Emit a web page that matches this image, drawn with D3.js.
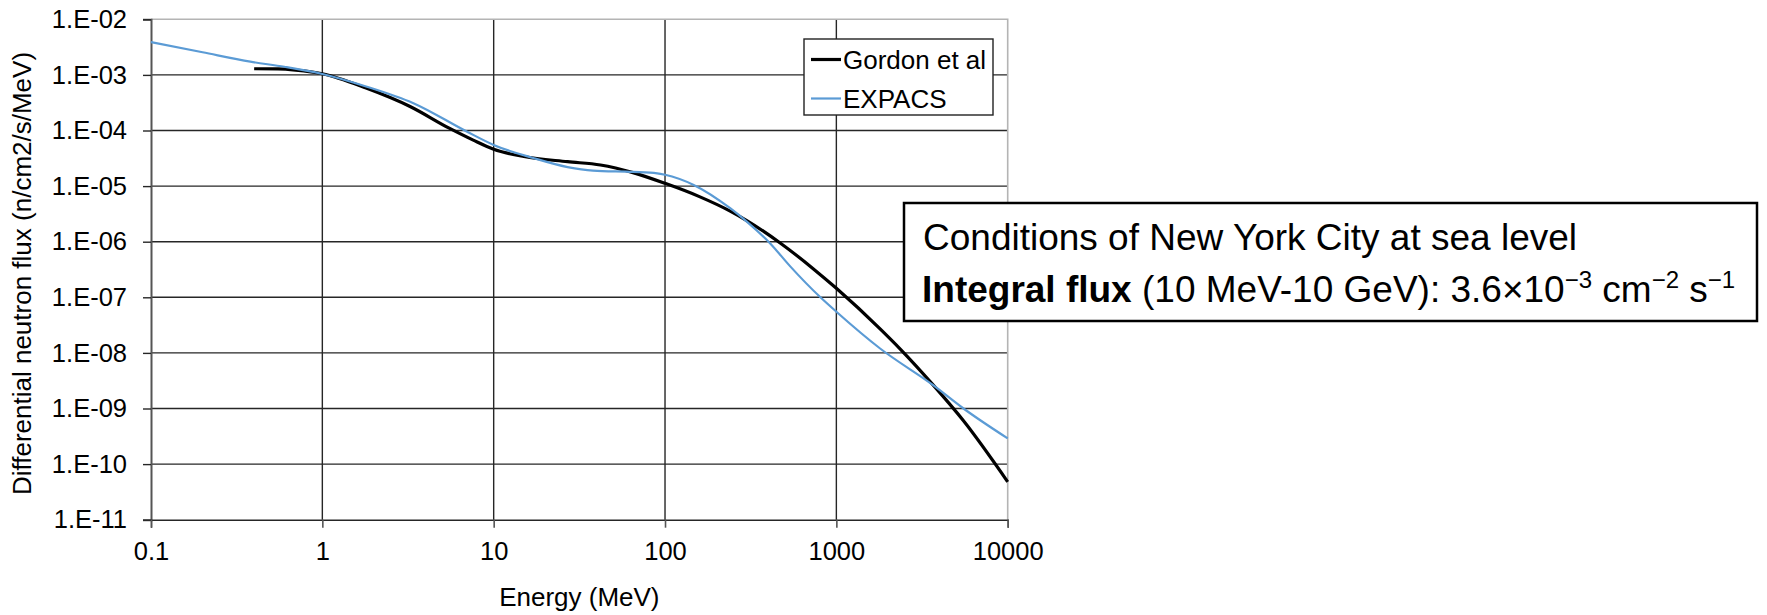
<!DOCTYPE html>
<html>
<head>
<meta charset="utf-8">
<script src="https://cdn.jsdelivr.net/npm/d3@7"></script>
<style>
  html, body { margin: 0; padding: 0; background: #fff; }
  svg { display: block; font-family: "Liberation Sans", Arial, sans-serif; }
</style>
</head>
<body>
<svg id="chart" width="1767" height="615"></svg>
<script>
// Differential neutron flux spectra (n/cm2/s/MeV) vs energy (MeV)
const gordonEnergy = [0.4, 0.55, 0.7, 1, 1.8, 3.25, 5.5, 7.6, 10, 15, 27, 42, 65, 100, 160, 240, 300, 470, 735, 1000, 1800, 2360, 3690, 5520, 10000];
const gordonFlux   = [1.29e-3, 1.28e-3, 1.22e-3, 1.05e-3, 5.8e-4, 2.7e-4, 1.1e-4, 6.7e-5, 4.6e-5, 3.4e-5, 2.75e-5, 2.4e-5, 1.75e-5, 1.12e-5, 6.4e-6, 3.55e-6, 2.4e-6, 9.5e-7, 3.24e-7, 1.45e-7, 2.7e-8, 1.17e-8, 2.6e-9, 6.0e-10, 4.8e-11];

const expacsEnergy = [0.1, 0.2, 0.38, 0.6, 1, 1.8, 3.4, 7, 10, 17, 27, 38, 65, 90, 100, 147, 240, 300, 411, 538, 807, 1000, 1800, 3690, 5520, 10000];
const expacsFlux   = [3.9e-3, 2.55e-3, 1.73e-3, 1.4e-3, 1.04e-3, 6.2e-4, 3.1e-4, 9.5e-5, 5.5e-5, 3.2e-5, 2.2e-5, 1.9e-5, 1.8e-5, 1.7e-5, 1.6e-5, 1.05e-5, 4e-6, 2.3e-6, 9.3e-7, 3.6e-7, 1.0e-7, 5.5e-8, 1.2e-8, 2.6e-9, 1.0e-9, 2.9e-10];

const seriesNames = ["Gordon et al", "EXPACS"];

const xTicks = [0.1, 1, 10, 100, 1000, 10000];
const xTickLabels = ["0.1", "1", "10", "100", "1000", "10000"];
const yTicks = [1e-2, 1e-3, 1e-4, 1e-5, 1e-6, 1e-7, 1e-8, 1e-9, 1e-10, 1e-11];
const yTickLabels = ["1.E-02", "1.E-03", "1.E-04", "1.E-05", "1.E-06", "1.E-07", "1.E-08", "1.E-09", "1.E-10", "1.E-11"];

const svg = d3.select("#chart");
const plot = { left: 151, top: 19.3, right: 1007.7, bottom: 519.7 };

const x = d3.scaleLog().domain([0.1, 10000]).range([plot.left, plot.right]);
const y = d3.scaleLog().domain([1e-11, 1e-2]).range([plot.bottom, plot.top]);

// gridlines
const grid = svg.append("g");
grid.selectAll("line.h").data(yTicks.slice(1, -1)).join("line")
  .attr("x1", plot.left).attr("x2", plot.right)
  .attr("y1", d => y(d)).attr("y2", d => y(d))
  .attr("stroke", "#262626").attr("stroke-width", 1.4);
grid.selectAll("line.v").data(xTicks.slice(1, -1)).join("line")
  .attr("x1", d => x(d)).attr("x2", d => x(d))
  .attr("y1", plot.top).attr("y2", plot.bottom)
  .attr("stroke", "#262626").attr("stroke-width", 1.4);

// plot-area border (top and right)
grid.append("path")
  .attr("d", `M${plot.left},${y(1e-2)}H${x(10000)}V${plot.bottom}`)
  .attr("fill", "none").attr("stroke", "#b4b4b4").attr("stroke-width", 1.6);

// axes
const tickFont = 25.5;
const yAxis = d3.axisLeft(y).tickValues(yTicks)
  .tickFormat((d, i) => yTickLabels[i]).tickSize(8).tickPadding(16);
const gy = svg.append("g").attr("transform", `translate(${plot.left},0)`).call(yAxis);
gy.select(".domain").attr("stroke", "#555").attr("stroke-width", 2);
gy.selectAll(".tick line").attr("stroke", "#262626").attr("stroke-width", 1.4);
gy.selectAll(".tick text").attr("font-size", tickFont).attr("fill", "#000")
  .attr("font-family", "Liberation Sans, Arial, sans-serif");

const xAxis = d3.axisBottom(x).tickValues(xTicks)
  .tickFormat((d, i) => xTickLabels[i]).tickSize(8).tickPadding(14);
const gx = svg.append("g").attr("transform", `translate(0,${plot.bottom})`).call(xAxis);
gx.select(".domain").attr("stroke", "#262626").attr("stroke-width", 1.4);
gx.selectAll(".tick line").attr("stroke", "#555").attr("stroke-width", 1.6);
gx.selectAll(".tick text").attr("font-size", tickFont).attr("fill", "#000")
  .attr("font-family", "Liberation Sans, Arial, sans-serif");

// axis titles
svg.append("text")
  .attr("transform", `translate(31,${(plot.top + plot.bottom) / 2 + 4}) rotate(-90)`)
  .attr("text-anchor", "middle").attr("font-size", 26).attr("fill", "#000")
  .text("Differential neutron flux (n/cm2/s/MeV)");
svg.append("text")
  .attr("x", (plot.left + plot.right) / 2).attr("y", 606)
  .attr("text-anchor", "middle").attr("font-size", 26).attr("fill", "#000")
  .text("Energy (MeV)");

// spectra
const line = d3.line().x(d => x(d[0])).y(d => y(d[1])).curve(d3.curveMonotoneX);
const expacs = expacsEnergy.map((e, i) => [e, expacsFlux[i]]);
const gordon = gordonEnergy.map((e, i) => [e, gordonFlux[i]]);
const colors = ["#000000", "#5b9bd5"];
const widths = [3.2, 2.2];

svg.append("path").datum(gordon).attr("d", line)
  .attr("fill", "none").attr("stroke", colors[0]).attr("stroke-width", widths[0]);
svg.append("path").datum(expacs).attr("d", line)
  .attr("fill", "none").attr("stroke", colors[1]).attr("stroke-width", widths[1]);

// legend
const legend = svg.append("g").attr("transform", "translate(804,39)");
legend.append("rect").attr("width", 189).attr("height", 76)
  .attr("fill", "#fff").attr("stroke", "#222").attr("stroke-width", 1.4);
seriesNames.forEach((name, i) => {
  const cy = 20.5 + i * 39;
  legend.append("line").attr("x1", 7).attr("x2", 37).attr("y1", cy).attr("y2", cy)
    .attr("stroke", colors[i]).attr("stroke-width", widths[i]);
  legend.append("text").attr("x", 39).attr("y", cy).attr("dy", "0.35em")
    .attr("font-size", 26).attr("fill", "#000").text(name);
});

// annotation box
const note = svg.append("g").attr("transform", "translate(904,203)");
note.append("rect").attr("width", 853).attr("height", 118)
  .attr("fill", "#fff").attr("stroke", "#000").attr("stroke-width", 2.5);
note.append("text").attr("x", 19).attr("y", 47)
  .attr("font-size", 37).attr("fill", "#000")
  .text("Conditions of New York City at sea level");
const t2 = note.append("text").attr("x", 18).attr("y", 99)
  .attr("font-size", 37).attr("fill", "#000");
t2.append("tspan").attr("font-weight", "bold").text("Integral flux");
t2.append("tspan").text(" (10 MeV-10 GeV): 3.6×10");
t2.append("tspan").attr("font-size", 24).attr("dy", -14).text("−3");
t2.append("tspan").attr("dy", 14).text(" cm");
t2.append("tspan").attr("font-size", 24).attr("dy", -14).text("−2");
t2.append("tspan").attr("dy", 14).text(" s");
t2.append("tspan").attr("font-size", 24).attr("dy", -14).text("−1");
</script>
</body>
</html>
